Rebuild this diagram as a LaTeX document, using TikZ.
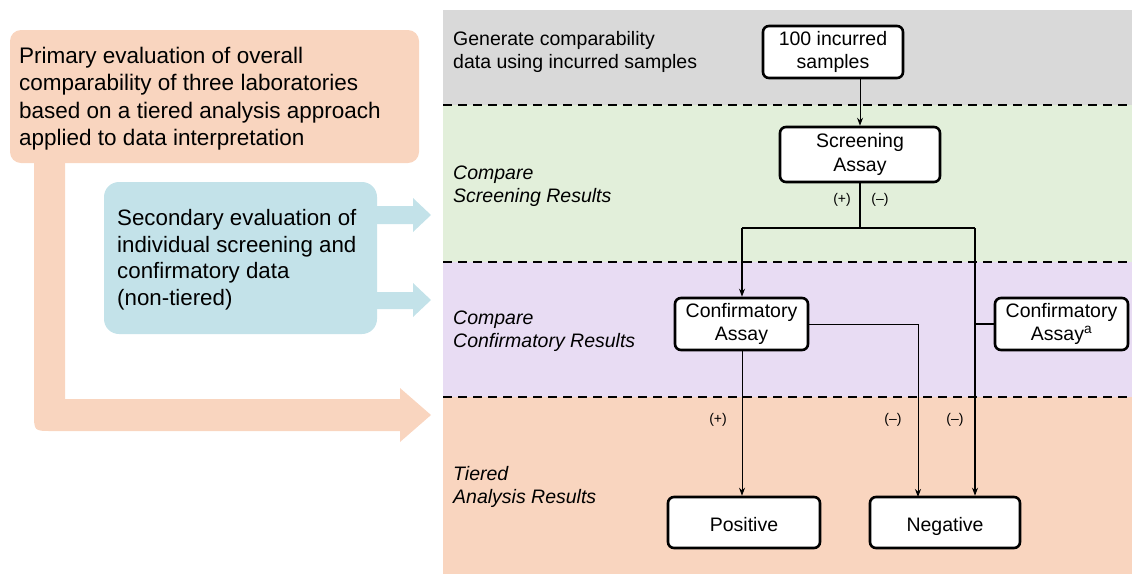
\documentclass[tikz,border=0pt]{standalone}
\usepackage{fontspec}
\setmainfont{Liberation Sans}
\usetikzlibrary{arrows.meta,calc}
\definecolor{bgray}{HTML}{D9D9D9}
\definecolor{bgreen}{HTML}{E2EFDA}
\definecolor{bpurple}{HTML}{E8DCF3}
\definecolor{borange}{HTML}{F9D5BF}
\definecolor{bblue}{HTML}{C3E2E9}
\tikzset{
  box/.style={draw, line width=2.6pt, rounded corners=6pt, fill=white, align=center, inner sep=0pt, font=\fontsize{19.5}{23.5}\selectfont},
  onebox/.style={box, text height=17pt, text depth=0pt},
  lbl/.style={anchor=west, align=left, inner sep=0pt, font=\fontsize{19.5}{23}\selectfont},
  ilbl/.style={lbl, font=\fontsize{19.5}{23.5}\selectfont\itshape},
  sign/.style={inner sep=0pt, font=\fontsize{14}{16}\selectfont},
  trunk/.style={line width=1.9pt},
  arr/.style={line width=1pt, -{Stealth[length=8pt,width=6pt]}},
  sep/.style={line width=1.8pt, dash pattern=on 9pt off 6pt},
  bigtext/.style={anchor=north west, align=left, inner sep=0pt, font=\fontsize{22.5}{27.3}\selectfont}
}
\begin{document}
\begin{tikzpicture}[x=1pt,y=-1pt]
\useasboundingbox (0,0) rectangle (1132,574);
% bands
\fill[bgray] (443,10) rectangle (1132,105);
\fill[bgreen] (443,105) rectangle (1132,262);
\fill[bpurple] (443,262) rectangle (1132,397);
\fill[borange] (443,397) rectangle (1132,574);
\draw[sep] (443,105) -- (1132,105);
\draw[sep] (443,262) -- (1132,262);
\draw[sep] (443,397) -- (1132,397);
% left: primary box and L arrow
\fill[borange] (34,150) -- (65,150) -- (65,399) -- (400,399) -- (400,388) -- (431,415) -- (400,442) -- (400,431) -- (52,431) .. controls (34,431) .. (34,413) -- cycle;
\fill[borange, rounded corners=11pt] (10,30) rectangle (419,163);
\node[bigtext] (prim) at (19,47) {Primary evaluation of overall\\comparability of three laboratories\\based on a tiered analysis approach\\applied to data interpretation};
% blue box and arrows
\fill[bblue] (370,206) -- (413,206) -- (413,198) -- (431,215) -- (413,232) -- (413,224) -- (370,224) -- cycle;
\fill[bblue] (370,292) -- (413,292) -- (413,283) -- (431,300) -- (413,317) -- (413,309) -- (370,309) -- cycle;
\fill[bblue, rounded corners=15pt] (104,182) rectangle (377,334);
\node[bigtext, font=\fontsize{22.3}{26.8}\selectfont] (sec) at (117,209) {Secondary evaluation of\\individual screening and\\confirmatory data\\(non-tiered)};
% band labels
\node[lbl] (l1) at (453,52) {Generate comparability\\data using incurred samples};
\node[ilbl] (l2) at (453,186) {Compare\\Screening Results};
\node[ilbl] (l3) at (453,331) {Compare\\Confirmatory Results};
\node[ilbl] (l4) at (453,487) {Tiered\\Analysis Results};
% flow boxes
\node[box, minimum width=140pt, minimum height=52pt] (inc) at (833,52) {100 incurred\\samples};
\node[box, minimum width=160pt, minimum height=55pt] (scr) at (860,154.5) {Screening\\Assay};
\node[box, minimum width=133pt, minimum height=52pt] (conf) at (741.5,324) {Confirmatory\\Assay};
\node[box, minimum width=133pt, minimum height=52pt] (confa) at (1061.5,324) {Confirmatory\\Assay\textsuperscript{a}};
\node[onebox, minimum width=152pt, minimum height=51pt] (pos) at (744,522.5) {Positive};
\node[onebox, minimum width=150pt, minimum height=51pt] (neg) at (945,522.5) {Negative};
% coordinates
\coordinate (br) at (860,228);
\coordinate (bl) at (742,228);
\coordinate (brr) at (975,228);
\coordinate (jr) at (975,324);
\coordinate (nin) at (918,497);
% connectors
\draw[arr] (inc.south -| scr.north) -- (scr.north);
\draw[trunk] (scr.south) -- (br);
\draw[trunk] (bl) -- (brr);
\draw[line width=1.3pt, -{Stealth[length=8pt,width=6pt]}] (bl) -- (bl |- conf.north);
\draw[line width=1.3pt, -{Stealth[length=8pt,width=6pt]}] (brr) -- (brr |- neg.north);
\draw[trunk] (jr) -- (confa.west);
\draw[arr] (conf.east) -| (nin);
\draw[arr] (bl |- conf.south) -- (bl |- pos.north);
% sign labels
\node[sign] (s1) at (842,200) {(+)};
\node[sign] (s2) at (880,200) {(--)};
\node[sign] (s3) at (718,420) {(+)};
\node[sign] (s4) at (893,420) {(--)};
\node[sign] (s5) at (955,420) {(--)};
\end{tikzpicture}
\end{document}
